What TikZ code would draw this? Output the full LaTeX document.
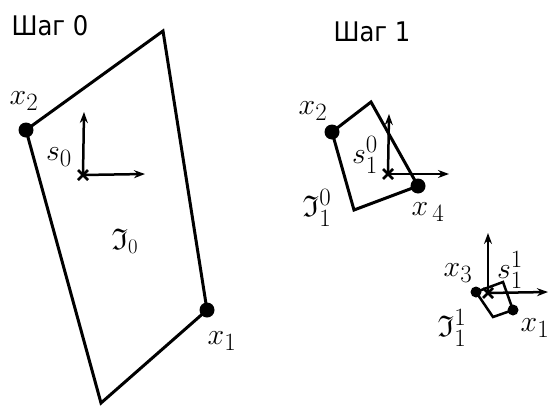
\documentclass[tikz,border=0pt]{standalone}
\usepackage{amsfonts}
\usepackage{fontspec}
\newfontfamily\stepfont{DejaVu Sans Condensed}
\usetikzlibrary{arrows.meta,calc}
\begin{document}
\begin{tikzpicture}[x=1pt,y=-1pt,
  edge/.style={line width=3pt, line join=miter},
  axis/.style={line width=2.5pt, -{Stealth[length=11pt,width=8pt]}},
  bigdot/.style={circle, fill=black, inner sep=0pt, minimum size=15pt},
  smalldot/.style={circle, fill=black, inner sep=0pt, minimum size=11pt},
  lab/.style={inner sep=0pt, scale=1.2, font=\fontsize{24.88}{28}\selectfont},
  title/.style={inner sep=0pt, font=\stepfont\fontsize{27}{30}\selectfont},
  cross/.style={line width=2.5pt}]
\useasboundingbox (0,0) rectangle (549,407);
% titles
\node[title] (t0) at (50,26) {Шаг 0};
\node[title] (t1) at (372,32) {Шаг 1};
% ---- step 0
\coordinate (a0) at (163,31);
\coordinate (a3) at (101,403);
\node[bigdot] (p2) at (26,130) {};
\node[bigdot] (p1) at (207,310) {};
\draw[edge] (a0) -- (p2.center) -- (a3) -- (p1.center) -- cycle;
\coordinate (c0) at (83,175);
\coordinate (c0u) at (84,112);
\coordinate (c0r) at (145,174);
\draw[axis] (c0) -- (c0u);
\draw[axis] (c0) -- (c0r);
\draw[cross] ($(c0)+(-5,-5)$) -- ($(c0)+(5,5)$) ($(c0)+(-5,5)$) -- ($(c0)+(5,-5)$);
\node[lab] (lx2) at (24,101) {$x_2$};
\node[lab] (ls0) at (59,157) {$s_0$};
\node[lab] (lI0) at (125,241) {$\mathfrak{I}_{\scriptscriptstyle 0}$};
\node[lab] (lx1) at (222,341) {$x_1$};
% ---- step 1, first
\coordinate (b0) at (371,102);
\coordinate (b3) at (354,210);
\node[bigdot] (q2) at (332,132) {};
\node[bigdot] (q4) at (418,186) {};
\draw[edge] (b0) -- (q2.center) -- (b3) -- (q4.center) -- cycle;
\coordinate (c1) at (388,174);
\coordinate (c1u) at (389,114);
\coordinate (c1r) at (449,174);
\draw[axis] (c1) -- (c1u);
\draw[axis] (c1) -- (c1r);
\draw[cross] ($(c1)+(-5,-5)$) -- ($(c1)+(5,5)$) ($(c1)+(-5,5)$) -- ($(c1)+(5,-5)$);
\node[lab] (lq2) at (313,111) {$x_2$};
\node[lab] (ls10) at (365,155) {$s_1^0$};
\node[lab] (lI10) at (317,208) {$\mathfrak{I}_1^0$};
\node[lab] (lx4) at (428,212) {$x_{\,4}$};
% ---- step 1, second
\node[smalldot] (r3) at (476,292) {};
\coordinate (d1) at (503,282);
\node[smalldot] (r1) at (513,310) {};
\coordinate (d3) at (493,317);
\draw[edge, line width=2.5pt] (r3.center) -- (d1) -- (r1.center) -- (d3) -- cycle;
\coordinate (c2) at (488,293);
\coordinate (c2u) at (488,233);
\coordinate (c2r) at (548,292);
\draw[axis] (c2) -- (c2u);
\draw[axis] (c2) -- (c2r);
\draw[cross] ($(c2)+(-5,-5)$) -- ($(c2)+(5,5)$) ($(c2)+(-5,5)$) -- ($(c2)+(5,-5)$);
\node[lab] (lx3) at (458,273) {$x_3$};
\node[lab] (ls11) at (510,270) {$s_1^1$};
\node[lab] (lI11) at (452,328) {$\mathfrak{I}_1^1$};
\node[lab] (lr1) at (535,328) {$x_1$};
\end{tikzpicture}
\end{document}
